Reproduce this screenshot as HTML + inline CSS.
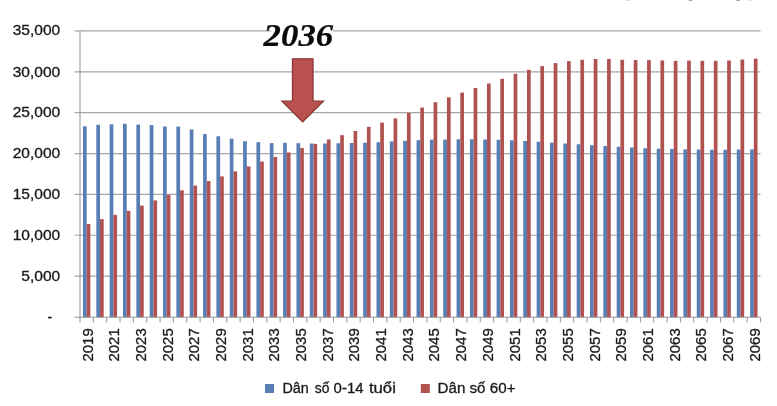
<!DOCTYPE html>
<html lang="vi"><head><meta charset="utf-8"><title>Dân số 0-14 tuổi và 60+</title>
<style>html,body{margin:0;padding:0;background:#fff}body{width:777px;height:406px;overflow:hidden}svg{display:block}text{font-family:"Liberation Sans",sans-serif;fill:#1a1a1a;stroke:#1a1a1a;stroke-width:.3px}.t{font-family:"Liberation Serif",serif;font-weight:bold;font-style:italic;fill:#0a0a0a;stroke:#0a0a0a;stroke-width:.2px}</style></head><body>
<svg width="777" height="406" viewBox="0 0 777 406">
<rect width="777" height="406" fill="#fff"/>
<g stroke="#a6a6a6" stroke-width="1.2">
<line x1="74.5" y1="30.95" x2="760.5" y2="30.95"/>
<line x1="74.5" y1="71.81" x2="760.5" y2="71.81"/>
<line x1="74.5" y1="112.67" x2="760.5" y2="112.67"/>
<line x1="74.5" y1="153.53" x2="760.5" y2="153.53"/>
<line x1="74.5" y1="194.39" x2="760.5" y2="194.39"/>
<line x1="74.5" y1="235.25" x2="760.5" y2="235.25"/>
<line x1="74.5" y1="276.11" x2="760.5" y2="276.11"/>
</g>
<rect x="271" y="24" width="62" height="24" fill="#fff"/>
<g fill="#587eb5">
<rect x="82.97" y="126.3" width="3.70" height="190.9"/>
<rect x="96.31" y="124.8" width="3.70" height="192.4"/>
<rect x="109.66" y="124.3" width="3.70" height="192.9"/>
<rect x="123.00" y="123.8" width="3.70" height="193.4"/>
<rect x="136.34" y="124.6" width="3.70" height="192.6"/>
<rect x="149.69" y="125.1" width="3.70" height="192.1"/>
<rect x="163.03" y="126.5" width="3.70" height="190.7"/>
<rect x="176.37" y="126.6" width="3.70" height="190.6"/>
<rect x="189.72" y="129.5" width="3.70" height="187.7"/>
<rect x="203.06" y="134.1" width="3.70" height="183.1"/>
<rect x="216.40" y="136.3" width="3.70" height="180.9"/>
<rect x="229.75" y="138.7" width="3.70" height="178.5"/>
<rect x="243.09" y="141.2" width="3.70" height="176.0"/>
<rect x="256.43" y="142.2" width="3.70" height="175.0"/>
<rect x="269.78" y="143.1" width="3.70" height="174.1"/>
<rect x="283.12" y="142.9" width="3.70" height="174.3"/>
<rect x="296.46" y="143.2" width="3.70" height="174.0"/>
<rect x="309.80" y="143.5" width="3.70" height="173.7"/>
<rect x="323.15" y="143.5" width="3.70" height="173.7"/>
<rect x="336.49" y="143.2" width="3.70" height="174.0"/>
<rect x="349.83" y="143.0" width="3.70" height="174.2"/>
<rect x="363.18" y="142.7" width="3.70" height="174.5"/>
<rect x="376.52" y="142.2" width="3.70" height="175.0"/>
<rect x="389.86" y="141.5" width="3.70" height="175.7"/>
<rect x="403.21" y="140.9" width="3.70" height="176.3"/>
<rect x="416.55" y="140.2" width="3.70" height="177.0"/>
<rect x="429.89" y="139.7" width="3.70" height="177.5"/>
<rect x="443.24" y="139.6" width="3.70" height="177.6"/>
<rect x="456.58" y="139.3" width="3.70" height="177.9"/>
<rect x="469.92" y="139.3" width="3.70" height="177.9"/>
<rect x="483.27" y="139.5" width="3.70" height="177.7"/>
<rect x="496.61" y="139.8" width="3.70" height="177.4"/>
<rect x="509.95" y="140.3" width="3.70" height="176.9"/>
<rect x="523.30" y="141.0" width="3.70" height="176.2"/>
<rect x="536.64" y="141.8" width="3.70" height="175.4"/>
<rect x="549.98" y="142.7" width="3.70" height="174.5"/>
<rect x="563.32" y="143.5" width="3.70" height="173.7"/>
<rect x="576.67" y="144.3" width="3.70" height="172.9"/>
<rect x="590.01" y="145.2" width="3.70" height="172.0"/>
<rect x="603.35" y="146.0" width="3.70" height="171.2"/>
<rect x="616.70" y="146.8" width="3.70" height="170.4"/>
<rect x="630.04" y="147.5" width="3.70" height="169.7"/>
<rect x="643.38" y="148.2" width="3.70" height="169.0"/>
<rect x="656.73" y="148.7" width="3.70" height="168.5"/>
<rect x="670.07" y="149.0" width="3.70" height="168.2"/>
<rect x="683.41" y="149.4" width="3.70" height="167.8"/>
<rect x="696.76" y="149.5" width="3.70" height="167.7"/>
<rect x="710.10" y="149.7" width="3.70" height="167.5"/>
<rect x="723.44" y="149.7" width="3.70" height="167.5"/>
<rect x="736.79" y="149.5" width="3.70" height="167.7"/>
<rect x="750.13" y="149.5" width="3.70" height="167.7"/>
</g><g fill="#b05350">
<rect x="86.67" y="224.0" width="3.70" height="93.2"/>
<rect x="100.01" y="219.1" width="3.70" height="98.1"/>
<rect x="113.36" y="214.9" width="3.70" height="102.3"/>
<rect x="126.70" y="210.8" width="3.70" height="106.4"/>
<rect x="140.04" y="205.6" width="3.70" height="111.6"/>
<rect x="153.39" y="200.4" width="3.70" height="116.8"/>
<rect x="166.73" y="194.8" width="3.70" height="122.4"/>
<rect x="180.07" y="190.3" width="3.70" height="126.9"/>
<rect x="193.42" y="185.6" width="3.70" height="131.6"/>
<rect x="206.76" y="181.1" width="3.70" height="136.1"/>
<rect x="220.10" y="176.4" width="3.70" height="140.8"/>
<rect x="233.45" y="171.4" width="3.70" height="145.8"/>
<rect x="246.79" y="166.4" width="3.70" height="150.8"/>
<rect x="260.13" y="161.5" width="3.70" height="155.7"/>
<rect x="273.48" y="156.9" width="3.70" height="160.3"/>
<rect x="286.82" y="152.5" width="3.70" height="164.7"/>
<rect x="300.16" y="148.1" width="3.70" height="169.1"/>
<rect x="313.50" y="143.9" width="3.70" height="173.3"/>
<rect x="326.85" y="139.4" width="3.70" height="177.8"/>
<rect x="340.19" y="135.2" width="3.70" height="182.0"/>
<rect x="353.53" y="131.0" width="3.70" height="186.2"/>
<rect x="366.88" y="126.8" width="3.70" height="190.4"/>
<rect x="380.22" y="122.6" width="3.70" height="194.6"/>
<rect x="393.56" y="118.4" width="3.70" height="198.8"/>
<rect x="406.91" y="112.9" width="3.70" height="204.3"/>
<rect x="420.25" y="107.5" width="3.70" height="209.7"/>
<rect x="433.59" y="102.2" width="3.70" height="215.0"/>
<rect x="446.94" y="97.3" width="3.70" height="219.9"/>
<rect x="460.28" y="92.6" width="3.70" height="224.6"/>
<rect x="473.62" y="88.0" width="3.70" height="229.2"/>
<rect x="486.97" y="83.5" width="3.70" height="233.7"/>
<rect x="500.31" y="78.8" width="3.70" height="238.4"/>
<rect x="513.65" y="73.8" width="3.70" height="243.4"/>
<rect x="527.00" y="69.8" width="3.70" height="247.4"/>
<rect x="540.34" y="66.1" width="3.70" height="251.1"/>
<rect x="553.68" y="63.1" width="3.70" height="254.1"/>
<rect x="567.02" y="61.1" width="3.70" height="256.1"/>
<rect x="580.37" y="59.8" width="3.70" height="257.4"/>
<rect x="593.71" y="59.0" width="3.70" height="258.2"/>
<rect x="607.05" y="59.0" width="3.70" height="258.2"/>
<rect x="620.40" y="59.8" width="3.70" height="257.4"/>
<rect x="633.74" y="60.1" width="3.70" height="257.1"/>
<rect x="647.08" y="60.1" width="3.70" height="257.1"/>
<rect x="660.43" y="60.5" width="3.70" height="256.7"/>
<rect x="673.77" y="60.9" width="3.70" height="256.3"/>
<rect x="687.11" y="60.6" width="3.70" height="256.6"/>
<rect x="700.46" y="60.8" width="3.70" height="256.4"/>
<rect x="713.80" y="60.8" width="3.70" height="256.4"/>
<rect x="727.14" y="60.5" width="3.70" height="256.7"/>
<rect x="740.49" y="59.5" width="3.70" height="257.7"/>
<rect x="753.83" y="58.6" width="3.70" height="258.6"/>
</g>
<g stroke="#969696" stroke-width="1.05" fill="none">
<line x1="80.0" y1="30.9" x2="80.0" y2="322.2"/>
<line x1="74.5" y1="317.2" x2="760.5" y2="317.2"/>
<line x1="93.34" y1="317.2" x2="93.34" y2="322.2"/>
<line x1="106.69" y1="317.2" x2="106.69" y2="322.2"/>
<line x1="120.03" y1="317.2" x2="120.03" y2="322.2"/>
<line x1="133.37" y1="317.2" x2="133.37" y2="322.2"/>
<line x1="146.72" y1="317.2" x2="146.72" y2="322.2"/>
<line x1="160.06" y1="317.2" x2="160.06" y2="322.2"/>
<line x1="173.40" y1="317.2" x2="173.40" y2="322.2"/>
<line x1="186.75" y1="317.2" x2="186.75" y2="322.2"/>
<line x1="200.09" y1="317.2" x2="200.09" y2="322.2"/>
<line x1="213.43" y1="317.2" x2="213.43" y2="322.2"/>
<line x1="226.77" y1="317.2" x2="226.77" y2="322.2"/>
<line x1="240.12" y1="317.2" x2="240.12" y2="322.2"/>
<line x1="253.46" y1="317.2" x2="253.46" y2="322.2"/>
<line x1="266.80" y1="317.2" x2="266.80" y2="322.2"/>
<line x1="280.15" y1="317.2" x2="280.15" y2="322.2"/>
<line x1="293.49" y1="317.2" x2="293.49" y2="322.2"/>
<line x1="306.83" y1="317.2" x2="306.83" y2="322.2"/>
<line x1="320.18" y1="317.2" x2="320.18" y2="322.2"/>
<line x1="333.52" y1="317.2" x2="333.52" y2="322.2"/>
<line x1="346.86" y1="317.2" x2="346.86" y2="322.2"/>
<line x1="360.21" y1="317.2" x2="360.21" y2="322.2"/>
<line x1="373.55" y1="317.2" x2="373.55" y2="322.2"/>
<line x1="386.89" y1="317.2" x2="386.89" y2="322.2"/>
<line x1="400.24" y1="317.2" x2="400.24" y2="322.2"/>
<line x1="413.58" y1="317.2" x2="413.58" y2="322.2"/>
<line x1="426.92" y1="317.2" x2="426.92" y2="322.2"/>
<line x1="440.26" y1="317.2" x2="440.26" y2="322.2"/>
<line x1="453.61" y1="317.2" x2="453.61" y2="322.2"/>
<line x1="466.95" y1="317.2" x2="466.95" y2="322.2"/>
<line x1="480.29" y1="317.2" x2="480.29" y2="322.2"/>
<line x1="493.64" y1="317.2" x2="493.64" y2="322.2"/>
<line x1="506.98" y1="317.2" x2="506.98" y2="322.2"/>
<line x1="520.32" y1="317.2" x2="520.32" y2="322.2"/>
<line x1="533.67" y1="317.2" x2="533.67" y2="322.2"/>
<line x1="547.01" y1="317.2" x2="547.01" y2="322.2"/>
<line x1="560.35" y1="317.2" x2="560.35" y2="322.2"/>
<line x1="573.70" y1="317.2" x2="573.70" y2="322.2"/>
<line x1="587.04" y1="317.2" x2="587.04" y2="322.2"/>
<line x1="600.38" y1="317.2" x2="600.38" y2="322.2"/>
<line x1="613.73" y1="317.2" x2="613.73" y2="322.2"/>
<line x1="627.07" y1="317.2" x2="627.07" y2="322.2"/>
<line x1="640.41" y1="317.2" x2="640.41" y2="322.2"/>
<line x1="653.75" y1="317.2" x2="653.75" y2="322.2"/>
<line x1="667.10" y1="317.2" x2="667.10" y2="322.2"/>
<line x1="680.44" y1="317.2" x2="680.44" y2="322.2"/>
<line x1="693.78" y1="317.2" x2="693.78" y2="322.2"/>
<line x1="707.13" y1="317.2" x2="707.13" y2="322.2"/>
<line x1="720.47" y1="317.2" x2="720.47" y2="322.2"/>
<line x1="733.81" y1="317.2" x2="733.81" y2="322.2"/>
<line x1="747.16" y1="317.2" x2="747.16" y2="322.2"/>
<line x1="760.50" y1="317.2" x2="760.50" y2="322.2"/>
</g>
<text x="12.7" y="35.2" font-size="14" textLength="47.6" lengthAdjust="spacingAndGlyphs">35,000</text>
<text x="12.7" y="76.6" font-size="14" textLength="47.6" lengthAdjust="spacingAndGlyphs">30,000</text>
<text x="12.7" y="117.4" font-size="14" textLength="47.6" lengthAdjust="spacingAndGlyphs">25,000</text>
<text x="12.7" y="158.3" font-size="14" textLength="47.6" lengthAdjust="spacingAndGlyphs">20,000</text>
<text x="12.7" y="199.1" font-size="14" textLength="47.6" lengthAdjust="spacingAndGlyphs">15,000</text>
<text x="12.7" y="240.0" font-size="14" textLength="47.6" lengthAdjust="spacingAndGlyphs">10,000</text>
<text x="21.3" y="280.9" font-size="14" textLength="39.0" lengthAdjust="spacingAndGlyphs">5,000</text>
<text x="47.5" y="321.8" font-size="14">-</text>
<text transform="translate(92.57,361.5) rotate(-90)" font-size="15.2" textLength="33.2" lengthAdjust="spacingAndGlyphs">2019</text>
<text transform="translate(119.26,361.5) rotate(-90)" font-size="15.2" textLength="33.2" lengthAdjust="spacingAndGlyphs">2021</text>
<text transform="translate(145.94,361.5) rotate(-90)" font-size="15.2" textLength="33.2" lengthAdjust="spacingAndGlyphs">2023</text>
<text transform="translate(172.63,361.5) rotate(-90)" font-size="15.2" textLength="33.2" lengthAdjust="spacingAndGlyphs">2025</text>
<text transform="translate(199.32,361.5) rotate(-90)" font-size="15.2" textLength="33.2" lengthAdjust="spacingAndGlyphs">2027</text>
<text transform="translate(226.00,361.5) rotate(-90)" font-size="15.2" textLength="33.2" lengthAdjust="spacingAndGlyphs">2029</text>
<text transform="translate(252.69,361.5) rotate(-90)" font-size="15.2" textLength="33.2" lengthAdjust="spacingAndGlyphs">2031</text>
<text transform="translate(279.38,361.5) rotate(-90)" font-size="15.2" textLength="33.2" lengthAdjust="spacingAndGlyphs">2033</text>
<text transform="translate(306.06,361.5) rotate(-90)" font-size="15.2" textLength="33.2" lengthAdjust="spacingAndGlyphs">2035</text>
<text transform="translate(332.75,361.5) rotate(-90)" font-size="15.2" textLength="33.2" lengthAdjust="spacingAndGlyphs">2037</text>
<text transform="translate(359.43,361.5) rotate(-90)" font-size="15.2" textLength="33.2" lengthAdjust="spacingAndGlyphs">2039</text>
<text transform="translate(386.12,361.5) rotate(-90)" font-size="15.2" textLength="33.2" lengthAdjust="spacingAndGlyphs">2041</text>
<text transform="translate(412.81,361.5) rotate(-90)" font-size="15.2" textLength="33.2" lengthAdjust="spacingAndGlyphs">2043</text>
<text transform="translate(439.49,361.5) rotate(-90)" font-size="15.2" textLength="33.2" lengthAdjust="spacingAndGlyphs">2045</text>
<text transform="translate(466.18,361.5) rotate(-90)" font-size="15.2" textLength="33.2" lengthAdjust="spacingAndGlyphs">2047</text>
<text transform="translate(492.87,361.5) rotate(-90)" font-size="15.2" textLength="33.2" lengthAdjust="spacingAndGlyphs">2049</text>
<text transform="translate(519.55,361.5) rotate(-90)" font-size="15.2" textLength="33.2" lengthAdjust="spacingAndGlyphs">2051</text>
<text transform="translate(546.24,361.5) rotate(-90)" font-size="15.2" textLength="33.2" lengthAdjust="spacingAndGlyphs">2053</text>
<text transform="translate(572.92,361.5) rotate(-90)" font-size="15.2" textLength="33.2" lengthAdjust="spacingAndGlyphs">2055</text>
<text transform="translate(599.61,361.5) rotate(-90)" font-size="15.2" textLength="33.2" lengthAdjust="spacingAndGlyphs">2057</text>
<text transform="translate(626.30,361.5) rotate(-90)" font-size="15.2" textLength="33.2" lengthAdjust="spacingAndGlyphs">2059</text>
<text transform="translate(652.98,361.5) rotate(-90)" font-size="15.2" textLength="33.2" lengthAdjust="spacingAndGlyphs">2061</text>
<text transform="translate(679.67,361.5) rotate(-90)" font-size="15.2" textLength="33.2" lengthAdjust="spacingAndGlyphs">2063</text>
<text transform="translate(706.36,361.5) rotate(-90)" font-size="15.2" textLength="33.2" lengthAdjust="spacingAndGlyphs">2065</text>
<text transform="translate(733.04,361.5) rotate(-90)" font-size="15.2" textLength="33.2" lengthAdjust="spacingAndGlyphs">2067</text>
<text transform="translate(759.73,361.5) rotate(-90)" font-size="15.2" textLength="33.2" lengthAdjust="spacingAndGlyphs">2069</text>
<g fill="#9a9a9a"><ellipse cx="690.5" cy="0" rx="2" ry="1"/><ellipse cx="738" cy="0" rx="2" ry="1"/><ellipse cx="628" cy="0" rx="3" ry="0.7" fill="#cfcfcf"/><ellipse cx="750" cy="0" rx="2" ry="0.7" fill="#cfcfcf"/></g>
<path d="M292.5 58.8H313V101.2H323.4L302.7 121.8L282 101.2H292.5Z" fill="#b9514e" stroke="#8c3836" stroke-width="1.3"/>
<text class="t" x="263.6" y="46" font-size="30.6" textLength="69.6" lengthAdjust="spacingAndGlyphs">2036</text>
<rect x="265" y="384" width="9" height="9" fill="#587eb5"/>
<text y="392.7" font-size="14"><tspan x="282.4" textLength="26.4" lengthAdjust="spacingAndGlyphs">Dân</tspan> <tspan x="314.7" textLength="14.7" lengthAdjust="spacingAndGlyphs">số</tspan> <tspan x="333.6" textLength="30" lengthAdjust="spacingAndGlyphs">0-14</tspan> <tspan x="368.9" textLength="27" lengthAdjust="spacingAndGlyphs">tuổi</tspan></text>
<rect x="420.8" y="384" width="9" height="9" fill="#b05350"/>
<text x="437.5" y="392.7" font-size="14" textLength="78" lengthAdjust="spacingAndGlyphs">Dân số 60+</text>
</svg></body></html>
